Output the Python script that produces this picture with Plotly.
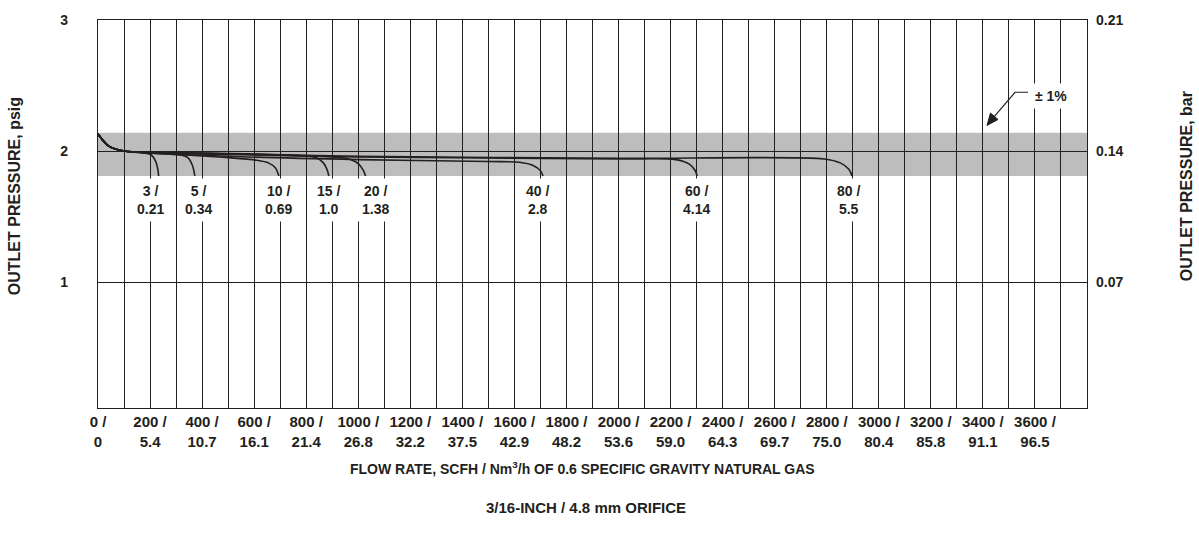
import plotly.graph_objects as go

# Flow rate axis (SCFH) with matching Nm3/h values
flow_ticks = [0, 200, 400, 600, 800, 1000, 1200, 1400, 1600, 1800, 2000,
              2200, 2400, 2600, 2800, 3000, 3200, 3400, 3600]
nm3_labels = ["0", "5.4", "10.7", "16.1", "21.4", "26.8", "32.2", "37.5", "42.9",
              "48.2", "53.6", "59.0", "64.3", "69.7", "75.0", "80.4", "85.8",
              "91.1", "96.5"]

# Outlet pressure axes
psig_ticks = [1, 2, 3]
psig_labels = ["1", "2", "3"]
bar_labels = ["0.07", "0.14", "0.21"]

# Regulation band (+/- 1%) around the 2 psig setpoint
band_low = 1.81
band_high = 2.14

# Inlet pressure curves: label psig / bar, flow (SCFH), outlet pressure (psig)
inlet_psig = ["3", "5", "10", "15", "20", "40", "60", "80"]
inlet_bar = ["0.21", "0.34", "0.69", "1.0", "1.38", "2.8", "4.14", "5.5"]

flow_3 = [0, 40, 100, 170, 205, 222, 230, 233]
press_3 = [2.13, 2.04, 2.0, 1.99, 1.97, 1.92, 1.86, 1.81]

flow_5 = [0, 40, 100, 250, 310, 345, 363, 372]
press_5 = [2.13, 2.04, 2.0, 1.985, 1.975, 1.95, 1.89, 1.81]

flow_10 = [0, 40, 100, 300, 500, 610, 655, 682, 695]
press_10 = [2.13, 2.04, 2.0, 1.975, 1.95, 1.93, 1.91, 1.87, 1.81]

flow_15 = [0, 40, 100, 400, 780, 840, 866, 880, 887]
press_15 = [2.13, 2.04, 2.0, 1.985, 1.965, 1.95, 1.91, 1.86, 1.81]

flow_20 = [0, 40, 100, 500, 900, 965, 1002, 1020, 1028]
press_20 = [2.13, 2.04, 2.0, 1.98, 1.955, 1.94, 1.9, 1.85, 1.81]

flow_40 = [0, 40, 100, 500, 1000, 1500, 1620, 1672, 1700, 1710]
press_40 = [2.13, 2.04, 2.0, 1.96, 1.935, 1.92, 1.915, 1.89, 1.85, 1.81]

flow_60 = [0, 40, 100, 500, 1000, 2000, 2220, 2272, 2295, 2302]
press_60 = [2.13, 2.04, 2.0, 1.975, 1.955, 1.94, 1.935, 1.9, 1.85, 1.81]

flow_80 = [0, 40, 100, 500, 1000, 2000, 2790, 2852, 2886, 2897]
press_80 = [2.13, 2.04, 2.0, 1.98, 1.96, 1.945, 1.94, 1.91, 1.86, 1.81]

curves = [(flow_3, press_3), (flow_5, press_5), (flow_10, press_10),
          (flow_15, press_15), (flow_20, press_20), (flow_40, press_40),
          (flow_60, press_60), (flow_80, press_80)]

# Where each curve label sits along the flow axis
label_flow = [200, 385, 692, 885, 1065, 1690, 2298, 2885]
label_press = 1.63

FONT = "Liberation Sans, Arial, sans-serif"
INK = "#231f20"

W, H = 1199, 539
L, R, T, B = 98, 112, 16, 131
pw, ph = W - L - R, H - T - B
X_RANGE = [0, 3800]
Y_RANGE = [0.04, 3]


def px(xp):
    return (xp - L) / pw


def py(yp):
    return (H - B - yp) / ph


def to_data(xp, yp):
    """Pixel position inside the plot area -> data coordinates."""
    xd = X_RANGE[0] + px(xp) * (X_RANGE[1] - X_RANGE[0])
    yd = Y_RANGE[0] + py(yp) * (Y_RANGE[1] - Y_RANGE[0])
    return xd, yd


fig = go.Figure()

for (fx, fy) in curves:
    fig.add_trace(go.Scatter(
        x=fx, y=fy, mode="lines",
        line=dict(color=INK, width=1.6, shape="spline", smoothing=0.8),
        hoverinfo="skip", showlegend=False,
    ))

# Invisible trace to carry the bar axis
fig.add_trace(go.Scatter(x=[0], y=[0], yaxis="y2", mode="markers",
                         marker=dict(opacity=0), showlegend=False,
                         hoverinfo="skip"))

# Shaded regulation band
fig.add_shape(type="rect", xref="x", yref="y", x0=X_RANGE[0], x1=X_RANGE[1],
              y0=band_low, y1=band_high, fillcolor="#bdbdbd",
              line=dict(width=0), layer="below")

# Leader line and arrowhead for the +/- 1% callout
lead = [to_data(1028, 89), to_data(1015, 89), to_data(991, 117.5)]
fig.add_shape(type="path", xref="x", yref="y",
              path="M {:.2f},{:.4f} L {:.2f},{:.4f} L {:.2f},{:.4f}".format(
                  *lead[0], *lead[1], *lead[2]),
              line=dict(color=INK, width=1.2), layer="above")
head = [to_data(987, 122.5), to_data(998, 116.5), to_data(990.5, 110)]
fig.add_shape(type="path", xref="x", yref="y",
              path="M {:.2f},{:.4f} L {:.2f},{:.4f} L {:.2f},{:.4f} Z".format(
                  *head[0], *head[1], *head[2]),
              line=dict(color=INK, width=1), fillcolor=INK, layer="above")

annotations = []
for p, b, lx in zip(inlet_psig, inlet_bar, label_flow):
    annotations.append(dict(
        x=lx, y=label_press, xref="x", yref="y",
        text=f"<b>{p} /<br>{b}</b>", showarrow=False,
        font=dict(family=FONT, size=14, color=INK),
        bgcolor="white", borderpad=4, align="center",
    ))

pm_x, pm_y = to_data(1051, 93)
annotations.append(dict(
    x=pm_x, y=pm_y, xref="x", yref="y", text="<b>± 1%</b>",
    showarrow=False, font=dict(family=FONT, size=14, color=INK),
    bgcolor="white", borderpad=4,
))

# Axis titles
annotations += [
    dict(x=px(14), y=py(194), xref="paper", yref="paper",
         text="<b>OUTLET PRESSURE, psig</b>", textangle=-90, showarrow=False,
         xanchor="center", yanchor="middle",
         font=dict(family=FONT, size=16, color=INK)),
    dict(x=px(1186), y=py(184), xref="paper", yref="paper",
         text="<b>OUTLET PRESSURE, bar</b>", textangle=-90, showarrow=False,
         xanchor="center", yanchor="middle",
         font=dict(family=FONT, size=16, color=INK)),
    dict(x=px(582), y=py(469), xref="paper", yref="paper",
         text="<b>FLOW RATE, SCFH / Nm<sup>3</sup>/h OF 0.6 SPECIFIC GRAVITY NATURAL GAS</b>",
         showarrow=False, xanchor="center", yanchor="middle",
         font=dict(family=FONT, size=14, color=INK)),
    dict(x=px(586), y=py(509), xref="paper", yref="paper",
         text="<b>3/16-INCH / 4.8 mm ORIFICE</b>", showarrow=False,
         xanchor="center", yanchor="middle",
         font=dict(family=FONT, size=15, color=INK)),
]

tick_font = dict(family=FONT, size=15, color=INK, weight="bold")
ytick_font = dict(family=FONT, size=14, color=INK, weight="bold")

fig.update_layout(
    width=W, height=H,
    margin=dict(l=L, r=R, t=T, b=B, pad=0),
    paper_bgcolor="white", plot_bgcolor="white",
    showlegend=False,
    xaxis=dict(
        range=X_RANGE, tickvals=flow_ticks,
        ticktext=[f"{f} /<br>{n}" for f, n in zip(flow_ticks, nm3_labels)],
        tickfont=tick_font,
        showgrid=True, gridcolor=INK, gridwidth=1,
        minor=dict(dtick=100, tick0=0, showgrid=True, gridcolor=INK, gridwidth=1),
        showline=True, linecolor=INK, linewidth=1.2, mirror=True,
        zeroline=False, ticks="", fixedrange=True,
    ),
    yaxis=dict(
        range=Y_RANGE, tickvals=psig_ticks, ticktext=psig_labels,
        tickfont=ytick_font,
        showgrid=True, gridcolor=INK, gridwidth=1,
        showline=True, linecolor=INK, linewidth=1.2, mirror=True,
        zeroline=False, ticks="", ticklabelstandoff=26, fixedrange=True,
    ),
    yaxis2=dict(
        range=Y_RANGE, overlaying="y", side="right",
        tickvals=psig_ticks, ticktext=bar_labels,
        tickfont=ytick_font,
        showgrid=False, zeroline=False, ticks="", ticklabelstandoff=8,
        fixedrange=True,
    ),
    annotations=annotations,
)

fig.write_html("out.html")
